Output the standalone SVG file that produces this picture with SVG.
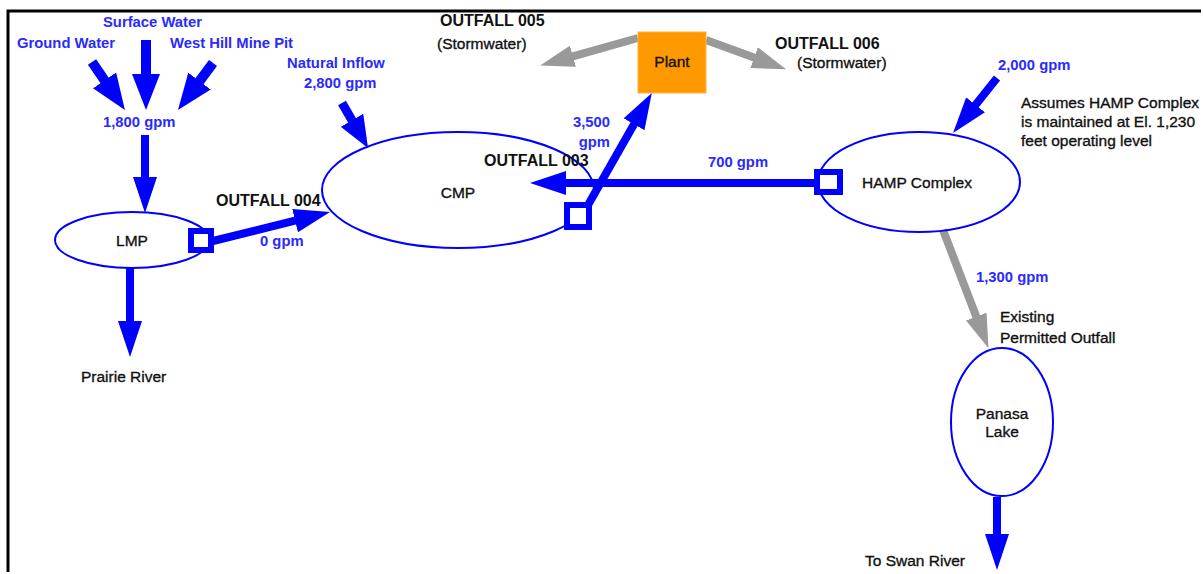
<svg xmlns="http://www.w3.org/2000/svg" width="1203" height="574" viewBox="0 0 1203 574">
  <style>
    text { font-family: "Liberation Sans", Arial, Helvetica, sans-serif; }
    .lbl { font-size: 15.5px; fill: #111; stroke: #111; stroke-width: 0.35px; }
    .out { font-size: 16px; font-weight: bold; fill: #111; }
    .flow { font-size: 14.8px; font-weight: bold; fill: #2a2aff; }
    .pond { fill: none; stroke: #0000ff; stroke-width: 2; }
    .pipe { stroke: #0000ff; fill: none; }
    .grey { stroke: #999; fill: none; }
    .gate { fill: #fff; stroke: #0000ff; stroke-width: 6; }
  </style>
  <defs>
    <marker id="headBlue" viewBox="0 0 36 24" markerWidth="36" markerHeight="24" markerUnits="userSpaceOnUse" refX="2" refY="12" orient="auto">
      <path d="M0,0 L36,12 L0,24 z" fill="#0000ff"/>
    </marker>
    <marker id="headBlueL" viewBox="0 0 36 28" markerWidth="36" markerHeight="28" markerUnits="userSpaceOnUse" refX="2" refY="14" orient="auto">
      <path d="M0,0 L36,14 L0,28 z" fill="#0000ff"/>
    </marker>
    <marker id="headBlueS" viewBox="0 0 32 26" markerWidth="32" markerHeight="26" markerUnits="userSpaceOnUse" refX="2" refY="13" orient="auto">
      <path d="M0,0 L32,13 L0,26 z" fill="#0000ff"/>
    </marker>
    <marker id="headGrey" viewBox="0 0 34 22" markerWidth="34" markerHeight="22" markerUnits="userSpaceOnUse" refX="2" refY="11" orient="auto">
      <path d="M0,0 L34,11 L0,22 z" fill="#999"/>
    </marker>
  </defs>

  <!-- frame -->
  <path d="M8,572 L8,11 L1201,11" fill="none" stroke="#000" stroke-width="3"/>

  <!-- connectors -->
  <g id="connectors">
    <line class="pipe" stroke-width="10" x1="92" y1="62" x2="105.7" y2="82" marker-end="url(#headBlueL)"/>
    <line class="pipe" stroke-width="10" x1="146" y1="40" x2="146" y2="76" marker-end="url(#headBlueL)"/>
    <line class="pipe" stroke-width="10" x1="213" y1="63" x2="198.3" y2="82.7" marker-end="url(#headBlueL)"/>
    <line class="pipe" stroke-width="8" x1="145" y1="135" x2="145" y2="179" marker-end="url(#headBlue)"/>
    <line class="pipe" stroke-width="8" x1="130" y1="268" x2="130" y2="323" marker-end="url(#headBlue)"/>
    <line class="pipe" stroke-width="8" x1="213" y1="241" x2="297" y2="220.2" marker-end="url(#headBlue)"/>
    <line class="pipe" stroke-width="9" x1="342" y1="103" x2="353" y2="122" marker-end="url(#headBlueS)"/>
    <line class="pipe" stroke-width="8" x1="822" y1="183" x2="564" y2="183" marker-end="url(#headBlue)"/>
    <line class="pipe" stroke-width="8" x1="588" y1="205" x2="635" y2="122.5" marker-end="url(#headBlue)"/>
    <line class="pipe" stroke-width="8" x1="997" y1="78" x2="974.3" y2="106.4" marker-end="url(#headBlue)"/>
    <line class="pipe" stroke-width="8" x1="997" y1="497" x2="997" y2="536" marker-end="url(#headBlue)"/>
    <line class="grey" stroke-width="8" x1="943" y1="230" x2="977" y2="318.5" marker-end="url(#headGrey)"/>
    <line class="grey" stroke-width="8" x1="638" y1="38" x2="571" y2="56.8" marker-end="url(#headGrey)"/>
    <line class="grey" stroke-width="8" x1="706" y1="40" x2="756" y2="58.3" marker-end="url(#headGrey)"/>
  </g>

  <!-- inflow labels -->
  <g id="inflows">
    <text class="flow" x="103" y="27">Surface Water</text>
    <text class="flow" x="17" y="48">Ground Water</text>
    <text class="flow" x="170" y="48">West Hill Mine Pit</text>
    <text class="flow" x="103" y="127">1,800 gpm</text>
    <text class="flow" x="287" y="68">Natural Inflow</text>
    <text class="flow" x="304" y="88">2,800 gpm</text>
    <text class="flow" x="998" y="70">2,000 gpm</text>
  </g>

  <g id="lmp">
    <ellipse class="pond" cx="132" cy="240" rx="77" ry="28"/>
    <text class="lbl" x="132" y="246" text-anchor="middle">LMP</text>
    <rect class="gate" x="191" y="231" width="20" height="19"/>
  </g>

  <g id="outfall-004">
    <text class="out" x="216" y="206">OUTFALL 004</text>
    <text class="flow" x="260" y="246">0 gpm</text>
  </g>

  <g id="prairie-river">
    <text class="lbl" x="81" y="382">Prairie River</text>
  </g>

  <g id="cmp">
    <ellipse class="pond" cx="458" cy="190" rx="136" ry="58"/>
    <text class="lbl" x="458" y="198" text-anchor="middle">CMP</text>
    <rect class="gate" x="567" y="205" width="22" height="22"/>
  </g>

  <g id="outfall-003">
    <text class="out" x="484" y="166">OUTFALL 003</text>
    <text class="flow" x="610" y="127" text-anchor="end">3,500</text>
    <text class="flow" x="610" y="147" text-anchor="end">gpm</text>
    <text class="flow" x="708" y="167">700 gpm</text>
  </g>

  <g id="plant">
    <rect x="638" y="32" width="68" height="61" fill="#ff9900" stroke="#ffb040" stroke-width="1"/>
    <text class="lbl" x="672" y="67" text-anchor="middle">Plant</text>
  </g>

  <g id="outfall-005">
    <text class="out" x="440" y="26">OUTFALL 005</text>
    <text class="lbl" x="437" y="49">(Stormwater)</text>
  </g>

  <g id="outfall-006">
    <text class="out" x="775" y="49">OUTFALL 006</text>
    <text class="lbl" x="797" y="68">(Stormwater)</text>
  </g>

  <g id="hamp">
    <ellipse class="pond" cx="919" cy="182" rx="101" ry="50"/>
    <text class="lbl" x="917" y="188" text-anchor="middle">HAMP Complex</text>
    <rect class="gate" x="817" y="172" width="23" height="20"/>
    <text class="lbl" x="1021" y="108">Assumes HAMP Complex</text>
    <text class="lbl" x="1021" y="127">is maintained at El. 1,230</text>
    <text class="lbl" x="1021" y="146">feet operating level</text>
  </g>

  <g id="existing-outfall">
    <text class="flow" x="976" y="282">1,300 gpm</text>
    <text class="lbl" x="1000" y="322">Existing</text>
    <text class="lbl" x="1000" y="343">Permitted Outfall</text>
  </g>

  <g id="panasa-lake">
    <ellipse class="pond" cx="1002" cy="422" rx="51" ry="74"/>
    <text class="lbl" x="1002" y="419" text-anchor="middle">Panasa</text>
    <text class="lbl" x="1002" y="437" text-anchor="middle">Lake</text>
  </g>

  <g id="swan-river">
    <text class="lbl" x="865" y="566">To Swan River</text>
  </g>
</svg>
